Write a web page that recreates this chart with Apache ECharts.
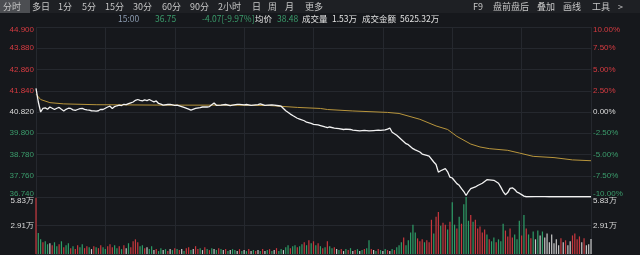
<!DOCTYPE html>
<html><head><meta charset="utf-8">
<script src="https://cdn.jsdelivr.net/npm/echarts@6/dist/echarts.min.js"></script>
<style>html,body{margin:0;padding:0;background:#16181c;}#c{width:640px;height:255px;}</style>
</head><body><div id="c"></div>
<script>
// ---------- data ----------
const prevClose = 40.82;
const priceLabels = ['36.740','37.760','38.780','39.800','40.820','41.840','42.860','43.880','44.900'];
const pctLabels = ['-10.00%','-7.50%','-5.00%','-2.50%','0.00%','2.50%','5.00%','7.50%','10.00%'];
const volLabels = ['', '2.91万', '5.83万'];
const volMax = 5.83;
const minutes = 240;

// [minute, price]
const priceLine = [
 [0,41.95],[1,41.30],[2,40.82],[3,40.99],[4,41.02],[5,40.95],[6,41.06],[7,41.00],[8,40.94],[9,41.00],
 [10,41.04],[11,40.95],[12,40.87],[13,40.95],[14,41.00],[15,40.99],[16,40.92],[17,40.90],[18,40.94],[19,40.98],
 [20,40.99],[21,40.95],[22,40.92],[23,40.91],[24,40.88],[25,40.87],[26,40.86],[27,40.88],[28,40.95],[29,40.94],
 [30,41.00],[31,41.06],[32,41.10],[33,40.99],[34,41.08],[35,41.12],[36,41.15],[37,41.13],[38,41.19],[39,41.17],
 [40,41.22],[41,41.26],[42,41.30],[43,41.38],[44,41.42],[45,41.38],[46,41.35],[47,41.40],[48,41.37],[49,41.42],
 [50,41.36],[51,41.31],[52,41.35],[53,41.23],[54,41.20],[55,41.15],[57,41.18],[58,41.19],[60,41.14],[61,41.15],
 [63,41.08],[64,41.04],[66,40.96],[67,40.91],[69,40.99],[71,41.03],[72,41.06],[74,41.06],[75,41.08],[77,41.25],
 [78,41.14],[80,41.15],[82,41.18],[84,41.13],[85,41.15],[87,41.19],[88,41.19],[90,41.16],[91,41.18],[93,41.14],
 [94,41.15],[96,41.17],[97,41.21],[99,41.14],[100,41.15],[102,41.16],[103,41.15],[105,41.12],[106,41.10],[108,40.88],
 [110,40.72],[111,40.65],[113,40.52],[114,40.48],[116,40.40],[117,40.33],[119,40.27],[120,40.23],[122,40.20],[123,40.17],
 [125,40.10],[126,40.07],[127,40.10],[129,40.05],[131,40.02],[133,39.98],[134,40.00],[136,39.98],[137,39.95],[139,39.93],
 [140,39.91],[142,39.94],[144,39.91],[146,39.93],[148,39.95],[149,39.94],[151,39.96],[152,40.00],[153,40.05],[154,39.85],
 [156,39.70],[158,39.50],[160,39.30],[161,39.25],[163,39.06],[164,39.00],[166,38.90],[167,38.80],[169,38.74],[170,38.70],
 [172,38.42],[173,38.30],[174,37.93],[175,38.00],[177,38.10],[178,37.95],[179,37.69],[180,37.65],[182,37.38],[183,37.30],
 [184,37.14],[185,37.00],[186,36.81],[187,37.00],[188,37.14],[190,37.22],[191,37.29],[193,37.40],[195,37.57],[196,37.56],
 [198,37.54],[200,37.40],[201,37.21],[202,37.00],[203,36.85],[204,36.95],[205,37.15],[206,37.18],[207,37.10],[208,36.97],
 [209,36.92],[210,36.85],[211,36.78],[212,36.75],[216,36.76],[220,36.76],[222,36.75],[240,36.75]
];

// [minute, average price]
const avgLine = [
 [0,41.68],[2,41.42],[6,41.27],[12,41.21],[26,41.17],[55,41.15],[84,41.15],[101,41.13],[113,41.04],[123,40.99],
 [126,40.94],[137,40.87],[152,40.80],[157,40.75],[166,40.47],[173,40.15],[178,39.98],[182,39.65],[188,39.28],[192,39.14],
 [196,39.06],[204,38.98],[209,38.85],[215,38.69],[224,38.63],[232,38.52],[240,38.48]
];

// volume per minute, 万
const volume = [
 5.75,2.15,1.5,1.2,1.3,1.0,1.1,0.9,1.2,0.8,
 1.0,1.3,0.7,0.9,1.1,0.6,0.8,0.5,0.9,0.7,
 1.0,0.6,0.8,0.7,0.5,0.8,0.7,0.6,0.9,0.7,
 0.5,0.8,1.0,0.7,0.9,0.6,0.8,0.5,0.9,0.6,
 1.1,0.7,1.3,1.5,1.2,0.8,0.9,0.6,0.7,0.5,
 0.8,0.4,0.5,0.3,0.6,0.4,0.5,0.3,0.5,0.4,
 0.6,0.5,0.4,0.5,0.3,0.6,0.7,0.4,0.5,0.8,
 0.5,0.6,0.4,0.7,0.5,0.4,0.6,0.5,0.4,0.6,
 0.5,0.4,0.5,0.3,0.4,0.5,0.4,0.3,0.5,0.3,
 0.4,0.3,0.5,0.3,0.4,0.3,0.4,0.3,0.5,0.3,
 0.4,0.5,0.3,0.4,0.6,0.3,0.5,0.4,0.7,0.9,
 0.6,0.8,0.9,0.7,0.8,1.0,1.2,0.9,1.4,1.1,
 1.3,0.9,1.1,0.8,0.6,0.7,1.3,0.8,0.6,0.7,
 0.5,0.4,0.5,0.3,0.5,0.4,0.6,0.3,0.4,0.5,
 0.3,0.4,0.5,0.6,1.4,0.5,0.4,0.3,0.5,0.4,
 0.3,0.5,0.4,0.3,0.5,0.4,0.7,0.9,1.2,1.7,
 0.9,1.4,2.2,3.0,2.2,1.6,1.3,1.5,1.2,1.4,
 1.2,3.5,2.1,3.8,4.3,2.9,3.2,3.0,2.5,3.3,
 5.3,3.0,2.6,3.8,3.1,5.1,5.83,3.4,4.0,3.3,
 3.5,2.6,2.8,2.2,2.5,2.0,1.5,1.3,1.7,1.2,
 1.5,1.3,3.1,2.4,1.8,2.6,1.7,2.0,1.5,3.4,
 1.9,4.0,2.6,2.0,1.6,2.3,1.5,2.4,1.9,2.3,
 1.7,2.1,1.2,2.0,1.1,1.5,0.9,1.6,1.2,1.4,
 0.9,1.3,1.9,2.1,1.5,1.8,1.2,1.6,0.9,1.0,1.53
];
// per-minute direction: r = up, g = down, w = unchanged
const volDir = (
 'rggrggwrgg'+'rgrggrgrrg'+'grrgwrgrrg'+'grrrggrgrw'+'grrrrggrwg'+
 'gwrggwgrwg'+'rgrwgrrgwr'+'rgwrgrgwgr'+'gwrgwggwrg'+'wgrwgrwgrw'+
 'grgwrggwgg'+'rggrggrgrg'+'rgrgrgrggr'+'wgrwgrgwrg'+'wgrggrwgrg'+
 'wgrwgrgggr'+'gggggrrrgr'+'rrgrrgrrgr'+'ggrgrgggrg'+'rrrrrgrggr'+
 'gggrrrrggg'+'rgrgrgwgwg'+'wwwwwwwrwr'+'wwrrrrwrwww'
).split('');

// header texts
const toolbarLeft = [['分时',3],['多日',32],['1分',58],['5分',82],['15分',105],['30分',133],['60分',162],['90分',190],['2小时',218],['日',252],['周',268],['月',285],['更多',305]];
const toolbarRight = [['F9',473],['盘前盘后',493],['叠加',537],['画线',563],['工具',592],['>',618]];
const infoRow = [
 ['15:00',118,'#8b9bb0'],['36.75',155,'g'],['-4.07[-9.97%]',202,'g'],['均价',255,'w'],['38.48',277,'g'],
 ['成交量',302,'w'],['1.53万',332,'w'],['成交金额',362,'w'],['5625.32万',400,'w']
];

// ---------- chart ----------
const RED = '#d63b41', GREEN = '#3b9d6c', NEU = '#dcdcdc', GRID = '#25282e';
const BAR = {r:'#c8373d', g:'#2e9d67', w:'#c9c9c9'};
const FONT = 'Liberation Sans';
const CJK = '"Noto Sans CJK SC"';

function pctKey(v){
  const base = v > 0.01 ? 'r' : (v < -0.01 ? 'g' : 'w');
  if (v > 9.99) return base + 't';
  if (v < -9.99) return base + 'b';
  return base;
}
const priceRich = {
  r:{color:RED}, g:{color:GREEN}, w:{color:NEU},
  rt:{color:RED, padding:[6,0,0,0]}, gb:{color:GREEN, padding:[0,0,6,0]}
};
for (const k in priceRich){ priceRich[k].fontSize = 8; priceRich[k].fontFamily = FONT; }

const idxOf = v => Math.round((v + 10) / 2.5);

const chart = echarts.init(document.getElementById('c'));
chart.setOption({
  backgroundColor:'#16181c',
  animation:false,
  grid:[
    {left:36, right:49, top:27, height:170},
    {left:36, right:49, top:197, height:57}
  ],
  xAxis:[0,1].map(g => ({
    type:'value', gridIndex:g, min:0, max:minutes, interval:30,
    axisLine:{show:false}, axisTick:{show:false}, axisLabel:{show:false},
    splitLine:{show:true, lineStyle:{color:GRID, width:1}}
  })),
  yAxis:[
    {type:'value', gridIndex:0, position:'left', min:-10, max:10, interval:2.5,
     axisLine:{show:false}, axisTick:{show:false},
     splitLine:{show:true, lineStyle:{color:GRID, width:1}},
     axisLabel:{margin:2, fontSize:8, fontFamily:FONT, rich:priceRich,
       formatter:v => '{' + pctKey(v) + '|' + priceLabels[idxOf(v)] + '}'}},
    {type:'value', gridIndex:0, position:'right', min:-10, max:10, interval:2.5,
     axisLine:{show:false}, axisTick:{show:false}, splitLine:{show:false},
     axisLabel:{margin:2, fontSize:8, fontFamily:FONT, rich:priceRich,
       formatter:v => '{' + pctKey(v) + '|' + pctLabels[idxOf(v)] + '}'}},
    {type:'value', gridIndex:0, min:prevClose*0.9, max:prevClose*1.1, show:false},
    {type:'value', gridIndex:1, position:'left', min:0, max:volMax, interval:volMax/2,
     axisLine:{show:false}, axisTick:{show:false},
     splitLine:{show:true, lineStyle:{color:GRID, width:1}},
     axisLabel:{margin:2, fontSize:8, fontFamily:FONT, color:NEU,
       rich:{t:{padding:[8,0,0,0], color:NEU, fontSize:8, fontFamily:FONT}, m:{color:NEU, fontSize:8, fontFamily:FONT}},
       formatter:v => { const i = Math.round(v/(volMax/2)); if(!volLabels[i]) return ''; return i===2 ? '{t|'+volLabels[i]+'}' : '{m|'+volLabels[i]+'}'; }}},
    {type:'value', gridIndex:1, position:'right', min:0, max:volMax, interval:volMax/2,
     axisLine:{show:false}, axisTick:{show:false}, splitLine:{show:false},
     axisLabel:{margin:2, fontSize:8, fontFamily:FONT, color:NEU,
       rich:{t:{padding:[8,0,0,0], color:NEU, fontSize:8, fontFamily:FONT}, m:{color:NEU, fontSize:8, fontFamily:FONT}},
       formatter:v => { const i = Math.round(v/(volMax/2)); if(!volLabels[i]) return ''; return i===2 ? '{t|'+volLabels[i]+'}' : '{m|'+volLabels[i]+'}'; }}}
  ],
  series:[
    {type:'line', name:'均价', xAxisIndex:0, yAxisIndex:2, data:avgLine, showSymbol:false, smooth:false,
     lineStyle:{color:'#b8953c', width:1}, z:3},
    {type:'line', name:'价格', xAxisIndex:0, yAxisIndex:2, data:priceLine, showSymbol:false,
     lineStyle:{color:'#f2f2f2', width:1.3}, z:4},
    {type:'bar', name:'成交量', xAxisIndex:1, yAxisIndex:3, barWidth:1.2,
     data:volume.map((v,i)=>({value:[i,v], itemStyle:{color:BAR[volDir[i]] || BAR.w}}))}
  ],
  graphic:[
    {type:'rect', shape:{x:0,y:0,width:640,height:13}, style:{fill:'#1e2024'}, z:-1},
    {type:'rect', shape:{x:0,y:0,width:30,height:13}, style:{fill:'#4c4e52'}, z:0},
    ...toolbarLeft.concat(toolbarRight).map(([t,x]) => ({
      type:'text', x:x, y:6.5, z:2,
      style:{text:t, fill:'#c6c6c6', font:'9px '+CJK, verticalAlign:'middle', textVerticalAlign:'middle'}
    })),
    ...infoRow.map(([t,x,c]) => ({
      type:'text', x:x, y:18.5, z:2,
      style:{text:t, fill: c==='g'?GREEN:(c==='w'?'#e2e2e2':c), font:'8.5px '+CJK, verticalAlign:'middle', textVerticalAlign:'middle'}
    }))
  ]
});
</script>
</body></html>
